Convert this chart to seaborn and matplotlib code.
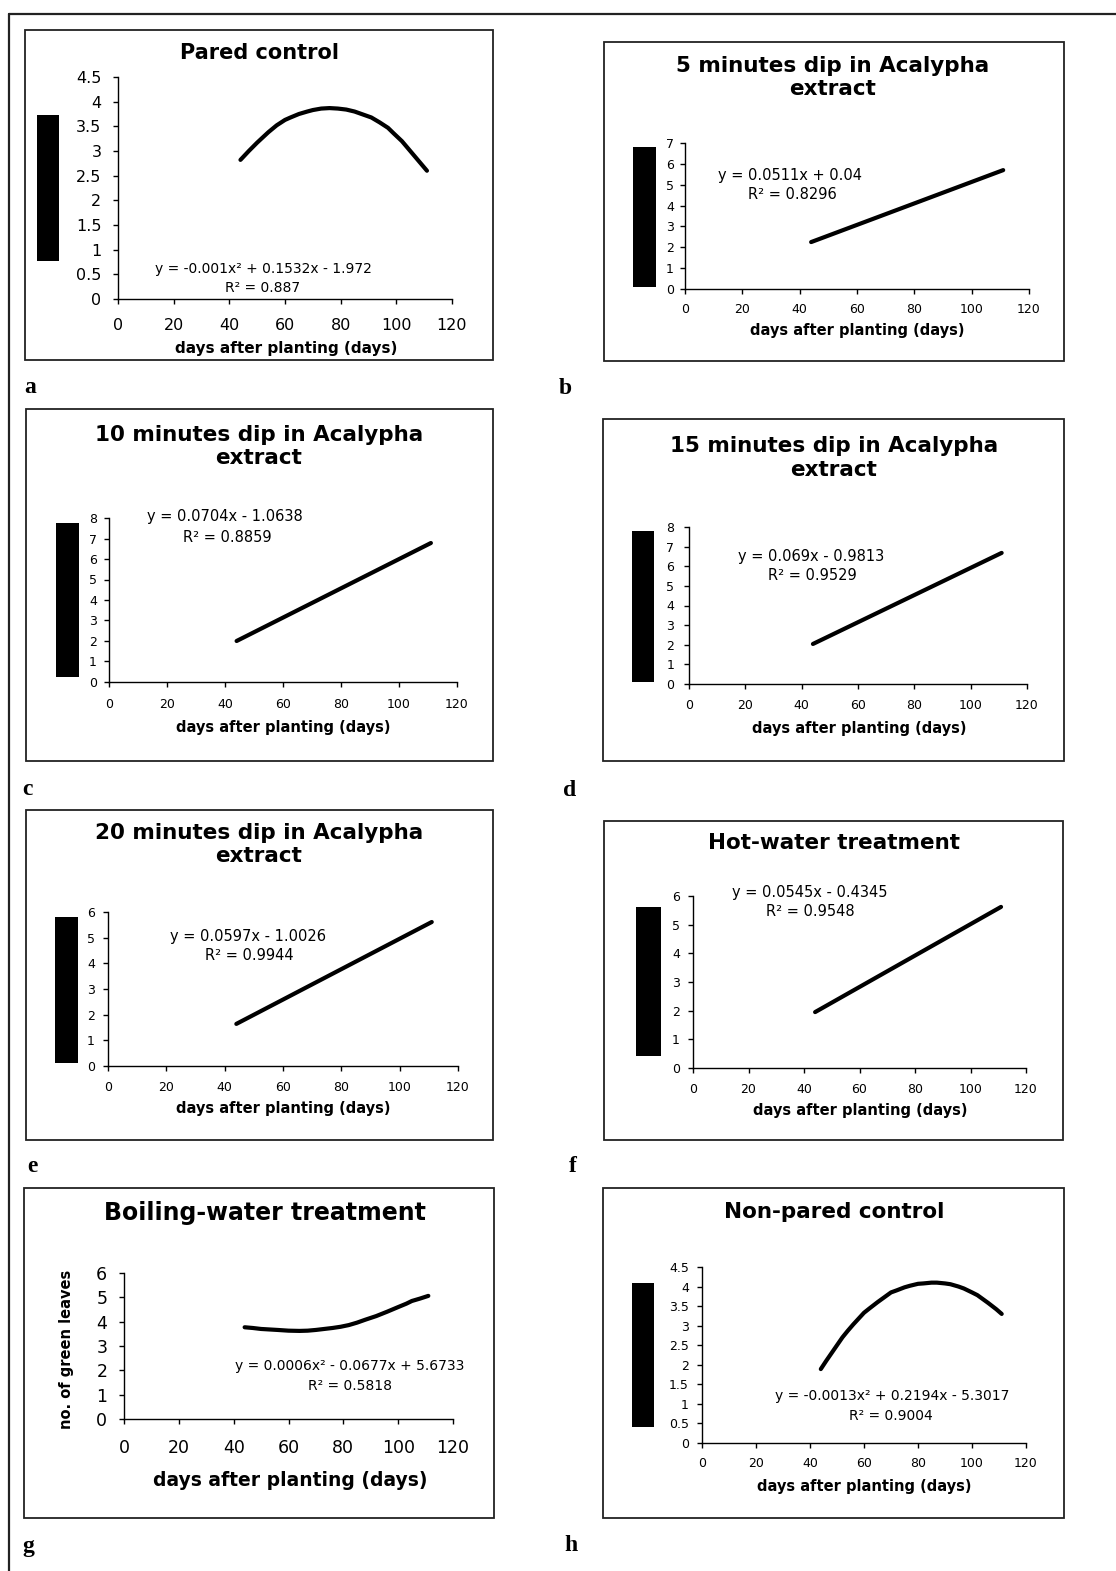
import matplotlib
matplotlib.use("Agg")
import matplotlib.pyplot as plt
import seaborn as sns
import pandas as pd
from matplotlib.patches import Rectangle
from matplotlib.lines import Line2D

sns.set_style("white")
plt.rcParams["font.family"] = ["DejaVu Sans"]
plt.rcParams["text.color"] = "black"
plt.rcParams["axes.labelcolor"] = "black"
plt.rcParams["xtick.color"] = "black"
plt.rcParams["ytick.color"] = "black"

# ---------------- data ----------------
x_ticks = [0, 20, 40, 60, 80, 100, 120]
x_label = "days after planting (days)"
y_label_g = "no. of green leaves"

titles = ["Pared control",
          "5 minutes dip in Acalypha\nextract",
          "10 minutes dip in Acalypha\nextract",
          "15 minutes dip in Acalypha\nextract",
          "20 minutes dip in Acalypha\nextract",
          "Hot-water treatment",
          "Boiling-water treatment",
          "Non-pared control"]
letters = ["a", "b", "c", "d", "e", "f", "g", "h"]

days_a = [44, 47, 50, 54, 57, 60, 62, 65, 68, 70, 73, 76, 79, 82, 85, 88, 91, 94, 97, 99, 102, 105, 108, 111]
leaves_a = [2.82, 3.00, 3.17, 3.38, 3.52, 3.63, 3.68, 3.75, 3.80, 3.83, 3.86, 3.87, 3.86, 3.84, 3.80,
            3.74, 3.68, 3.58, 3.47, 3.36, 3.20, 3.00, 2.80, 2.60]
days_b = [44, 111]
leaves_b = [2.25, 5.70]
days_c = [44, 111]
leaves_c = [2.00, 6.78]
days_d = [44, 111]
leaves_d = [2.04, 6.68]
days_e = [44, 111]
leaves_e = [1.64, 5.61]
days_f = [44, 111]
leaves_f = [1.95, 5.62]
days_g = [44, 47, 50, 53, 56, 60, 64, 67, 70, 73, 76, 79, 82, 85, 88, 92, 96, 100, 103, 105, 108, 111]
leaves_g = [3.77, 3.74, 3.70, 3.68, 3.66, 3.63, 3.62, 3.63, 3.66, 3.70, 3.74, 3.79, 3.86, 3.96, 4.08,
            4.23, 4.41, 4.60, 4.74, 4.85, 4.95, 5.06]
days_h = [44, 46, 48, 50, 52, 54, 56, 58, 60, 62, 65, 67, 70, 72, 75, 77, 80, 82, 85, 87, 90, 92, 95,
          97, 100, 102, 104, 106, 109, 111]
leaves_h = [1.89, 2.10, 2.30, 2.50, 2.70, 2.87, 3.03, 3.18, 3.33, 3.44, 3.60, 3.70, 3.85, 3.90, 3.98,
            4.02, 4.07, 4.08, 4.10, 4.10, 4.08, 4.06, 4.00, 3.95, 3.85, 3.78, 3.68, 3.58, 3.42, 3.30]

yticks_half45 = [0, 0.5, 1, 1.5, 2, 2.5, 3, 3.5, 4, 4.5]
ylabels_half45 = ["0", "0.5", "1", "1.5", "2", "2.5", "3", "3.5", "4", "4.5"]
yticks_7 = [0, 1, 2, 3, 4, 5, 6, 7]
yticks_8 = [0, 1, 2, 3, 4, 5, 6, 7, 8]
yticks_6 = [0, 1, 2, 3, 4, 5, 6]

eq_a = ("y = -0.001x² + 0.1532x - 1.972", "R² = 0.887")
eq_b = ("y = 0.0511x + 0.04", "R² = 0.8296")
eq_c = ("y = 0.0704x - 1.0638", "R² = 0.8859")
eq_d = ("y = 0.069x - 0.9813", "R² = 0.9529")
eq_e = ("y = 0.0597x - 1.0026", "R² = 0.9944")
eq_f = ("y = 0.0545x - 0.4345", "R² = 0.9548")
eq_g = ("y = 0.0006x² - 0.0677x + 5.6733", "R² = 0.5818")
eq_h = ("y = -0.0013x² + 0.2194x - 5.3017", "R² = 0.9004")

series = [(days_a, leaves_a), (days_b, leaves_b), (days_c, leaves_c), (days_d, leaves_d),
          (days_e, leaves_e), (days_f, leaves_f), (days_g, leaves_g), (days_h, leaves_h)]
equations = [eq_a, eq_b, eq_c, eq_d, eq_e, eq_f, eq_g, eq_h]
yticks = [yticks_half45, yticks_7, yticks_8, yticks_8, yticks_6, yticks_6, yticks_6, yticks_half45]
ytlabels = [ylabels_half45, None, None, None, None, None, None, ylabels_half45]

# ---------------- layout (pixels) ----------------
W, H = 1116, 1571
fig = plt.figure(figsize=(W / 100, H / 100), dpi=100)


def fx(x):
    return x / W


def fy(y):
    return 1 - y / H


layout = [
    dict(ax=(118, 452, 299, 77), box=(25, 30, 493, 360), bar=(37, 115, 59, 261), title=(259, 53),
         eq=((263, 269), (263, 288)), xl=(286, 348), let=(24, 393),
         tfs=15, tkfs=11.5, xlfs=11, eqfs=10, ypad=8.5, xpad=10),
    dict(ax=(685, 1029, 289, 143), box=(604, 42, 1064, 361), bar=(633, 147, 656, 287), title=(833, 77.5),
         eq=((790, 175), (792, 194)), xl=(857, 331), let=(559, 394),
         tfs=15.5, tkfs=9, xlfs=10.5, eqfs=10.5, ypad=4.5, xpad=6.5),
    dict(ax=(109, 457, 682, 518), box=(26, 409, 493, 761), bar=(56, 523, 79, 677), title=(259, 446.5),
         eq=((225, 517), (227, 537)), xl=(283, 728), let=(22, 795),
         tfs=15.5, tkfs=9, xlfs=10.5, eqfs=10.5, ypad=5.3, xpad=7.8),
    dict(ax=(689, 1027, 684, 527), box=(603, 419, 1064, 761), bar=(632, 531, 654, 682), title=(834, 458),
         eq=((811, 556), (812, 576)), xl=(859, 729), let=(563, 796),
         tfs=15.5, tkfs=9, xlfs=10.5, eqfs=10.5, ypad=7, xpad=7.5),
    dict(ax=(108, 458, 1066, 912), box=(26, 810, 493, 1140), bar=(55, 917, 78, 1063), title=(259, 844.5),
         eq=((248, 937), (249, 956)), xl=(283, 1109), let=(27, 1172),
         tfs=15.5, tkfs=9, xlfs=10.5, eqfs=10.5, ypad=6, xpad=7),
    dict(ax=(693, 1026, 1068, 896), box=(604, 821, 1063, 1140), bar=(636, 907, 661, 1056), title=(834, 843),
         eq=((810, 892), (810, 911)), xl=(860, 1110), let=(569, 1172),
         tfs=15.5, tkfs=9, xlfs=10.5, eqfs=10.5, ypad=6, xpad=7.5),
    dict(ax=(124, 453, 1419, 1273), box=(24, 1188, 494, 1518), bar=None, title=(265, 1213),
         eq=((350, 1366), (350, 1386)), xl=(290, 1480), let=(22, 1552),
         tfs=17, tkfs=12.5, xlfs=13.5, eqfs=10, ypad=8.5, xpad=11),
    dict(ax=(702, 1026, 1443, 1267), box=(603, 1188, 1064, 1518), bar=(632, 1283, 654, 1427), title=(834, 1212),
         eq=((892, 1396), (891, 1416)), xl=(864, 1486), let=(564, 1551),
         tfs=15.5, tkfs=9, xlfs=10.5, eqfs=10, ypad=6, xpad=6.7),
]

# outer border (top and left edges visible)
fig.add_artist(Line2D([fx(9), fx(W)], [fy(14), fy(14)], transform=fig.transFigure,
                      color="#222222", lw=1.6))
fig.add_artist(Line2D([fx(9), fx(9)], [fy(14), fy(H)], transform=fig.transFigure,
                      color="#222222", lw=1.6))

for i, lay in enumerate(layout):
    L, R, B, T = lay["ax"]

    # panel frame
    x0, y0, x1, y1 = lay["box"]
    fig.add_artist(Rectangle((fx(x0), fy(y1)), (x1 - x0) / W, (y1 - y0) / H,
                             transform=fig.transFigure, fill=False, ec="#222222", lw=1.3))

    ax = fig.add_axes([fx(L), fy(B), (R - L) / W, (B - T) / H])
    ax.patch.set_alpha(0)
    days, leaves = series[i]
    df = pd.DataFrame({"days": days, "leaves": leaves})
    sns.lineplot(data=df, x="days", y="leaves", ax=ax, color="black", linewidth=3.0,
                 sort=True, estimator=None)

    ax.set_xlim(0, 120)
    ax.set_ylim(0, yticks[i][-1])
    ax.set_xticks(x_ticks)
    ax.set_xticklabels([str(v) for v in x_ticks])
    ax.set_yticks(yticks[i])
    if ytlabels[i] is not None:
        ax.set_yticklabels(ytlabels[i])
    else:
        ax.set_yticklabels([str(v) for v in yticks[i]])

    for s in ["top", "right"]:
        ax.spines[s].set_visible(False)
    for s in ["left", "bottom"]:
        ax.spines[s].set_color("black")
        ax.spines[s].set_linewidth(1.0)

    ax.tick_params(axis="both", direction="out", length=3.5, width=1.0, color="black",
                   labelcolor="black", labelsize=lay["tkfs"], left=True, bottom=True)
    ax.tick_params(axis="y", pad=lay["ypad"])
    ax.tick_params(axis="x", pad=lay["xpad"])

    def axx(px):
        return (px - L) / (R - L)

    def axy(py):
        return (B - py) / (B - T)

    # title
    tx, ty = lay["title"]
    ax.set_title(titles[i], x=axx(tx), y=axy(ty), pad=0, va="center", ha="center",
                 fontsize=lay["tfs"], fontweight="bold", linespacing=1.2, color="black")

    # x label
    ax.set_xlabel(x_label, fontsize=lay["xlfs"], fontweight="bold", color="black")
    ax.xaxis.set_label_coords(axx(lay["xl"][0]), axy(lay["xl"][1]))
    ax.xaxis.label.set_va("center")

    if i == 6:
        ax.set_ylabel(y_label_g, fontsize=10.5, fontweight="bold", color="black")
        ax.yaxis.set_label_coords(axx(66), axy(1349))
        ax.yaxis.label.set_va("center")
    else:
        ax.set_ylabel("")

    # trendline equation
    (ex1, ey1), (ex2, ey2) = lay["eq"]
    ax.text(axx(ex1), axy(ey1), equations[i][0], transform=ax.transAxes, ha="center",
            va="center", fontsize=lay["eqfs"], color="black")
    ax.text(axx(ex2), axy(ey2), equations[i][1], transform=ax.transAxes, ha="center",
            va="center", fontsize=lay["eqfs"], color="black")

    # black bar (masked y label in the source)
    if lay["bar"] is not None:
        bx0, by0, bx1, by1 = lay["bar"]
        fig.add_artist(Rectangle((fx(bx0), fy(by1)), (bx1 - bx0) / W, (by1 - by0) / H,
                                 transform=fig.transFigure, fc="black", ec="none"))

    # panel letter
    lx, ly = lay["let"]
    fig.text(fx(lx), fy(ly), letters[i], ha="left", va="baseline", fontsize=17,
             fontweight="bold", color="black", family=["Liberation Serif", "DejaVu Serif"])

fig.savefig("out.png", dpi=100)
